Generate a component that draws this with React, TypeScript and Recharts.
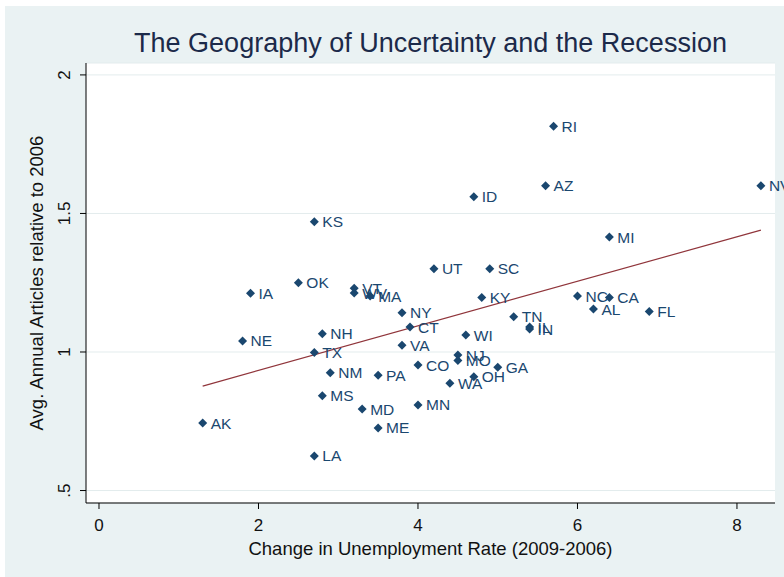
import { ScatterChart, Scatter, XAxis, YAxis, CartesianGrid, Label } from "recharts";

// state abbreviations, unemployment change and article ratio
const states = [
  "RI", "AZ", "NV", "ID", "KS", "MI", "UT", "SC", "OK", "VT", "WV", "MA",
  "IA", "NY", "CT", "NH", "NE", "TX", "VA", "NM", "PA", "CO", "MS", "MD",
  "MN", "KY", "TN", "IL", "IN", "WI", "NJ", "MO", "GA", "OH", "WA", "NC",
  "CA", "AL", "FL", "AK", "ME", "LA",
];
const unempChange = [
  5.7, 5.6, 8.3, 4.7, 2.7, 6.4, 4.2, 4.9, 2.5, 3.2, 3.2, 3.4,
  1.9, 3.8, 3.9, 2.8, 1.8, 2.7, 3.8, 2.9, 3.5, 4.0, 2.8, 3.3,
  4.0, 4.8, 5.2, 5.4, 5.4, 4.6, 4.5, 4.5, 5.0, 4.7, 4.4, 6.0,
  6.4, 6.2, 6.9, 1.3, 3.5, 2.7,
];
const articleRatio = [
  1.815, 1.6, 1.6, 1.56, 1.47, 1.415, 1.3, 1.3, 1.25, 1.23, 1.213, 1.202,
  1.212, 1.142, 1.09, 1.066, 1.04, 0.998, 1.024, 0.925, 0.916, 0.953, 0.842, 0.794,
  0.809, 1.197, 1.127, 1.09, 1.083, 1.061, 0.989, 0.969, 0.945, 0.911, 0.887, 1.202,
  1.197, 1.155, 1.146, 0.744, 0.726, 0.625,
];

// fitted line end points
const fitX = [1.3, 8.3];
const fitY = [0.877, 1.44];

const xTicks = [0, 2, 4, 6, 8];
const yTicks = [0.5, 1, 1.5, 2];

const points = states.map((s, i) => ({ state: s, x: unempChange[i], y: articleRatio[i] }));
const fit = fitX.map((x, i) => ({ x, y: fitY[i] }));

const NAVY = "#1a476f";
const FONT = "'Liberation Sans', Arial, sans-serif";

function Diamond(props: any) {
  const { cx, cy, payload } = props;
  if (cx == null || cy == null) return null;
  const r = 4.5;
  return (
    <g>
      <polygon
        points={`${cx},${cy - r} ${cx + r},${cy} ${cx},${cy + r} ${cx - r},${cy}`}
        fill={NAVY}
      />
      <text x={cx + 8} y={cy} dy="0.36em" fontSize={15.5} fill={NAVY} fontFamily={FONT}>
        {payload.state}
      </text>
    </g>
  );
}

function XTick({ x, y, payload }: any) {
  return (
    <text x={x} y={y + 20} textAnchor="middle" fontSize={17} fill="#111" fontFamily={FONT}>
      {payload.value}
    </text>
  );
}

function YTick({ x, y, payload }: any) {
  const v = payload.value;
  const txt = v === 0.5 ? ".5" : String(v);
  return (
    <text
      transform={`translate(${x - 8},${y}) rotate(-90)`}
      textAnchor="middle"
      fontSize={17}
      fill="#111"
      fontFamily={FONT}
    >
      {txt}
    </text>
  );
}

export default function App() {
  return (
    <div style={{ position: "absolute", left: 0, top: 0, width: 784, height: 577, background: "#fff" }}>
      <div
        style={{
          position: "absolute",
          left: 5,
          top: 6,
          width: 779,
          height: 571,
          background: "#eaf2f3",
        }}
      >
        <div
          style={{
            position: "absolute",
            left: 0,
            top: 24,
            width: 851,
            textAlign: "center",
            fontFamily: FONT,
            fontSize: 27,
            lineHeight: "27px",
            color: "#1c2a4a",
            whiteSpace: "nowrap",
          }}
        >
          The Geography of Uncertainty and the Recession
        </div>
        <ScatterChart
          width={779}
          height={571}
          margin={{ top: 57, right: 9, bottom: 24, left: 41 }}
          style={{ position: "absolute", left: 0, top: 0 }}
        >
          <CartesianGrid vertical={false} fill="#ffffff" stroke="#e3eced" />
          <XAxis
            type="number"
            dataKey="x"
            domain={[-0.163, 8.477]}
            ticks={xTicks}
            tick={<XTick />}
            tickSize={6}
            height={50}
            stroke="#000"
            tickLine={{ stroke: "#000" }}
          >
            <Label
              content={({ viewBox }: any) => (
                <text
                  x={viewBox.x + viewBox.width / 2}
                  y={viewBox.y + 52}
                  textAnchor="middle"
                  fontSize={18.5}
                  fill="#111"
                  fontFamily={FONT}
                >
                  Change in Unemployment Rate (2009-2006)
                </text>
              )}
            />
          </XAxis>
          <YAxis
            type="number"
            dataKey="y"
            domain={[0.455, 2.043]}
            ticks={yTicks}
            tick={<YTick />}
            tickSize={6}
            width={40}
            stroke="#000"
            tickLine={{ stroke: "#000" }}
          >
            <Label
              content={({ viewBox }: any) => (
                <text
                  transform={`translate(${viewBox.x - 3},${viewBox.y + viewBox.height / 2}) rotate(-90)`}
                  textAnchor="middle"
                  fontSize={18.5}
                  fill="#111"
                  fontFamily={FONT}
                >
                  Avg. Annual Articles relative to 2006
                </text>
              )}
            />
          </YAxis>
          <Scatter
            data={fit}
            line={{ stroke: "#90353b", strokeWidth: 1.2 }}
            shape={() => null}
            isAnimationActive={false}
          />
          <Scatter data={points} shape={<Diamond />} isAnimationActive={false} />
        </ScatterChart>
      </div>
    </div>
  );
}
